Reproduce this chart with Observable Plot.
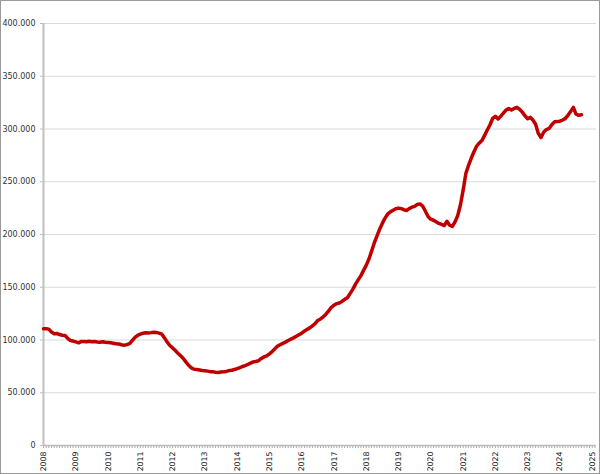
<!DOCTYPE html>
<html>
<head>
<meta charset="utf-8">
<script src="https://cdn.jsdelivr.net/npm/d3@7"></script>
<script src="https://cdn.jsdelivr.net/npm/@observablehq/plot@0.6"></script>
<style>
  html, body { margin: 0; padding: 0; background: #fff; }
  #chart { width: 598px; height: 472px; border: 1px solid #9a9a9a; }
  #chart svg { display: block; overflow: visible; }
</style>
</head>
<body>
<div id="chart"></div>
<script>
// Monthly values, starting January 2008 (one row per year)
const startYear = 2008;
const values = [
  110600,110600,110300,107500,106000,106200,105200,104500,104300,101500,99500,99000,
  98200,97300,98500,98600,98300,98800,98400,98600,98200,97900,98400,97800,
  97600,97300,97000,96500,96300,95500,95100,95600,96600,99500,102500,104300,
  105500,106500,106800,106700,107000,107400,107200,106500,105500,102000,98000,94800,
  92500,90000,87500,85000,82500,79000,76000,73500,72300,72000,71600,71100,
  70800,70500,70000,69800,69500,69300,69600,69800,70200,71000,71300,72000,
  72800,73800,74900,75800,76800,78000,79200,79600,80500,82500,84000,85000,
  86900,89000,91500,94000,95500,96800,98000,99500,100800,102000,103500,105000,
  106500,108500,110000,111500,113500,115500,118500,120000,122000,124500,127500,131000,
  133000,134500,135000,136500,138500,140000,144000,148000,153000,157000,161000,166000,
  171000,177000,184000,192000,198500,205000,210500,215500,219500,221500,223000,224400,
  225000,224500,223500,222800,224500,225900,226700,228500,229000,227000,222000,217000,
  214500,213500,212000,210500,209500,208500,212500,208800,207600,212000,218000,228000,
  242000,258000,265000,272000,278000,283500,286500,289000,294000,299000,304000,310000,
  312000,309500,312000,315000,318000,319500,318000,319500,320500,318700,316000,312500,
  309700,311000,308500,304500,296000,292000,297000,299500,300500,304000,306800,307000,
  307400,308500,309800,313000,316500,320500,314000,313000,313500
];
const yTicks = [0, 50000, 100000, 150000, 200000, 250000, 300000, 350000, 400000];
const yearTicks = d3.range(2008, 2026);
const xDomain = [new Date(Date.UTC(2008, 0, 1)), new Date(Date.UTC(2025, 1, 18))];

const data = values.map((v, i) => ({
  date: new Date(Date.UTC(startYear, i, 1)),
  value: v
}));

const fmt = d => d === 0 ? "0" : d3.format(",")(d).replace(/,/g, ".");

const chart = Plot.plot({
  width: 598,
  height: 472,
  marginTop: 22,
  marginBottom: 28,
  marginLeft: 42,
  marginRight: 3,
  style: {fontFamily: "DejaVu Sans", fontSize: "8px", color: "#333", background: "#fff"},
  x: {type: "utc", domain: xDomain},
  y: {domain: [0, 400000]},
  marks: [
    Plot.gridY(yTicks, {stroke: "#d9d9d9", strokeOpacity: 1, strokeWidth: 1.2}),
    Plot.axisY(yTicks, {tickFormat: fmt, tickSize: 3, tickPadding: 5, stroke: "#bbb", fill: "#333", label: null}),
    Plot.axisX({ticks: d3.utcMonth.every(1), tickFormat: () => "", tickSize: 3, stroke: "#aaa", label: null}),
    Plot.axisX(yearTicks.map(y => new Date(Date.UTC(y, 0, 1))), {tickFormat: d3.utcFormat("%Y"), tickSize: 0, tickPadding: 6, tickRotate: -90, fill: "#222", fontSize: 7.8, label: null}),
    Plot.ruleY([0], {stroke: "#bbb", strokeWidth: 1.5}),
    Plot.ruleX([xDomain[0]], {stroke: "#c0c0c0", strokeWidth: 2}),
    Plot.line(data, {x: "date", y: "value", stroke: "#c00000", strokeWidth: 3.5, strokeLinejoin: "round", strokeLinecap: "round"})
  ]
});
document.getElementById("chart").appendChild(chart);
</script>
</body>
</html>
